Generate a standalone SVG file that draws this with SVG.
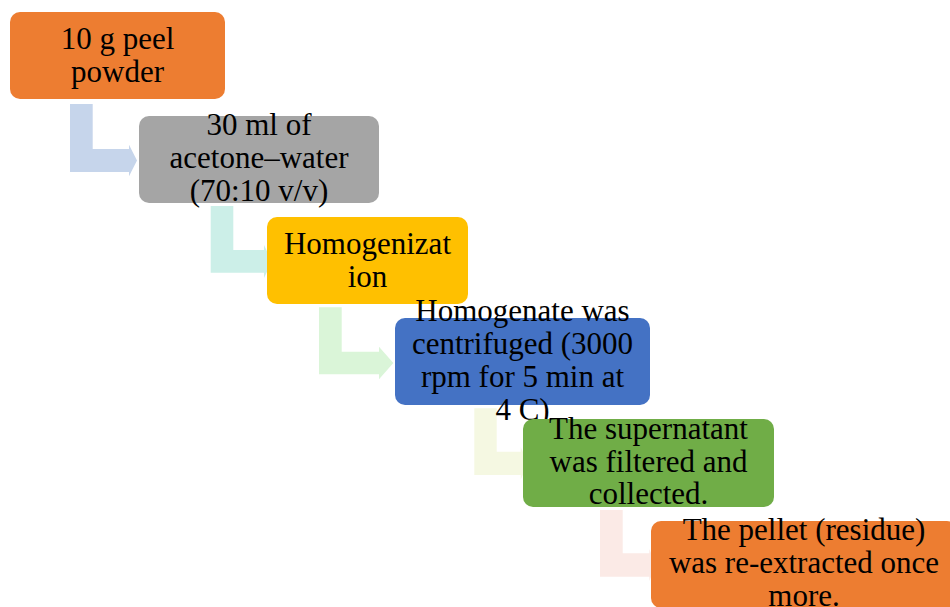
<svg xmlns="http://www.w3.org/2000/svg" width="950" height="607" viewBox="0 0 950 607">
<style>
text{font-family:"Liberation Serif","Times New Roman",serif;font-size:31px;fill:#000;text-anchor:middle}
</style>
<rect width="950" height="607" fill="#fff"/>
<g id="connectors">
<path d="M70,104 H92.7 V149 H129 V144.7 L137,160.5 L129,176.3 V172 H70 Z" fill="#C6D5EB"/>
<path d="M210.7,206 H233.3 V250 H264 V245 L272,261.5 L264,278 V272.7 H210.7 Z" fill="#CCEFE8"/>
<path d="M319,307.3 H341.7 V351.7 H379 V346.7 L393.3,363 L379,379.3 V374.3 H319 Z" fill="#DAF5D8"/>
<path d="M474.3,408.3 H496.7 V451.7 H520.7 V447 L528,463.3 L520.7,479.7 V475 H474.3 Z" fill="#F5F8E2"/>
<path d="M600,510 H622.7 V553.3 H649.3 V549 L656,565 L649.3,581 V576.7 H600 Z" fill="#FBEAE6"/>
</g>
<g id="n1">
<rect x="10" y="12" width="215" height="87" rx="10" fill="#ED7D31"/>
<text x="117.5" y="49">10 g peel</text>
<text x="117.5" y="82">powder</text>
</g>
<g id="n2">
<rect x="139" y="116" width="240" height="87" rx="10" fill="#A5A5A5"/>
<text x="259" y="135">30 ml of</text>
<text x="259" y="168">acetone–water</text>
<text x="259" y="201">(70:10 v/v)</text>
</g>
<g id="n3">
<rect x="267" y="217" width="201" height="87" rx="10" fill="#FFC000"/>
<text x="367.5" y="254">Homogenizat</text>
<text x="367.5" y="287">ion</text>
</g>
<g id="n4">
<rect x="395" y="318" width="255" height="87" rx="10" fill="#4472C4"/>
<text x="522.5" y="321">Homogenate was</text>
<text x="522.5" y="354">centrifuged (3000</text>
<text x="522.5" y="387">rpm for 5 min at</text>
<text x="522.5" y="420">4 C)</text>
</g>
<g id="n5">
<rect x="523" y="419" width="251" height="88" rx="10" fill="#70AD47"/>
<text x="648.5" y="439">The supernatant</text>
<text x="648.5" y="472">was filtered and</text>
<text x="648.5" y="504">collected.</text>
</g>
<g id="n6">
<rect x="651" y="521" width="306" height="87" rx="10" fill="#ED7D31"/>
<text x="804" y="540">The pellet (residue)</text>
<text x="804" y="573">was re-extracted once</text>
<text x="804" y="606">more.</text>
</g>
</svg>
